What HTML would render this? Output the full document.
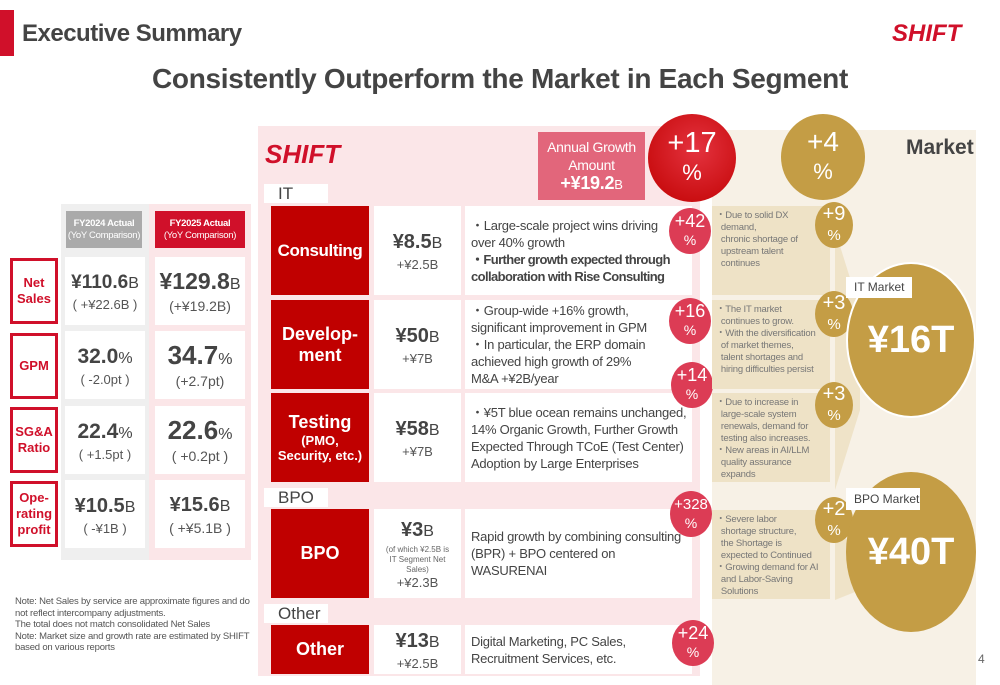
<!DOCTYPE html>
<html><head><meta charset="utf-8">
<style>
*{margin:0;padding:0;box-sizing:border-box}
body{width:1000px;height:685px;position:relative;overflow:hidden;background:#fff;font-family:"Liberation Sans","DejaVu Sans",sans-serif;color:#444}
.a{position:absolute}
.c{display:flex;align-items:center;justify-content:center;text-align:center;flex-direction:column}
.lab{border:3px solid #d0102a;color:#d0102a;font-weight:bold;font-size:13px;line-height:16px;background:#fff}
.cell{background:#fff}
.big{font-weight:bold;font-size:23px;color:#444;line-height:26px}
.big small{font-size:16px;font-weight:normal}
.sub{font-size:13px;color:#555}
.seg{background:#c00000;color:#fff;font-weight:bold;font-size:18px;line-height:21px}
.val{background:#fff;color:#444}
.desc{background:#fff;font-size:13px;line-height:17px;color:#444;padding:0 6px;justify-content:center;display:flex;flex-direction:column;letter-spacing:-0.25px;white-space:nowrap}
.pc{border-radius:50%;background:#dc3c55;color:#fff;line-height:19px;font-size:18px}
.pc span{font-size:14px}
.gc{border-radius:50%;background:#c49d45;color:#fff;font-size:20px;line-height:21px}
.gc span{font-size:15px}
.mk{background:#eee2c6;font-size:9.5px;line-height:12px;color:#777;padding:4px 4px;letter-spacing:-0.2px}
.tag{background:#fff;font-size:17px;color:#444;padding-left:14px;line-height:19px}
</style></head><body>
<div class="a" style="left:0;top:10px;width:14px;height:46px;background:#d0102a"></div>
<div class="a" style="left:22px;top:20px;font-size:24px;font-weight:bold;color:#444;letter-spacing:-0.5px">Executive Summary</div>
<div class="a" style="left:892px;top:20px;font-size:24px;font-weight:900;font-style:italic;color:#d0102a">SHIFT</div>
<div class="a" style="left:0;width:1000px;top:63px;text-align:center;font-size:28px;font-weight:bold;color:#444;letter-spacing:-0.3px">Consistently Outperform the Market in Each Segment</div>

<div class="a" style="left:61px;top:204px;width:190px;height:356px;background:#efefef"></div>
<div class="a" style="left:149px;top:204px;width:102px;height:356px;background:#fbe6e8"></div>
<div class="a c" style="left:66px;top:211px;width:76px;height:37px;background:#aaa;color:#fff;font-size:9.5px;line-height:12px;letter-spacing:-0.3px"><b>FY2024 Actual</b>(YoY Comparison)</div>
<div class="a c" style="left:155px;top:211px;width:90px;height:37px;background:#d0102a;color:#fff;font-size:9.5px;line-height:12px;letter-spacing:-0.3px"><b>FY2025 Actual</b>(YoY Comparison)</div>

<div class="a c lab" style="left:10px;top:258px;width:48px;height:66px">Net<br>Sales</div>
<div class="a c lab" style="left:10px;top:333px;width:48px;height:66px">GPM</div>
<div class="a c lab" style="left:10px;top:407px;width:48px;height:66px">SG&amp;A<br>Ratio</div>
<div class="a c lab" style="left:10px;top:481px;width:48px;height:66px">Ope-<br>rating<br>profit</div>

<div class="a c cell" style="left:65px;top:257px;width:80px;height:68px"><div class="big" style="font-size:19px">¥110.6<small>B</small></div><div class="sub">( +¥22.6B )</div></div>
<div class="a c cell" style="left:155px;top:257px;width:90px;height:68px"><div class="big">¥129.8<small>B</small></div><div class="sub" style="font-size:14px">(+¥19.2B)</div></div>
<div class="a c cell" style="left:65px;top:331px;width:80px;height:68px"><div class="big" style="font-size:21px">32.0<small>%</small></div><div class="sub">( -2.0pt )</div></div>
<div class="a c cell" style="left:155px;top:331px;width:90px;height:68px"><div class="big" style="font-size:26px">34.7<small>%</small></div><div class="sub" style="font-size:14px">(+2.7pt)</div></div>
<div class="a c cell" style="left:65px;top:406px;width:80px;height:68px"><div class="big" style="font-size:21px">22.4<small>%</small></div><div class="sub">( +1.5pt )</div></div>
<div class="a c cell" style="left:155px;top:406px;width:90px;height:68px"><div class="big" style="font-size:26px">22.6<small>%</small></div><div class="sub" style="font-size:14px">( +0.2pt )</div></div>
<div class="a c cell" style="left:65px;top:480px;width:80px;height:68px"><div class="big" style="font-size:20px">¥10.5<small>B</small></div><div class="sub">( -¥1B )</div></div>
<div class="a c cell" style="left:155px;top:480px;width:90px;height:68px"><div class="big" style="font-size:20px">¥15.6<small>B</small></div><div class="sub" style="font-size:14px">( +¥5.1B )</div></div>

<div class="a" style="left:15px;top:596px;width:240px;font-size:9.5px;line-height:11.5px;color:#555;letter-spacing:-0.2px">Note: Net Sales by service are approximate figures and do not reflect intercompany adjustments.<br>The total does not match consolidated Net Sales<br>Note: Market size and growth rate are estimated by SHIFT based on various reports</div>

<div class="a" style="left:712px;top:130px;width:264px;height:555px;background:#f7f1e6"></div>

<div class="a" style="left:258px;top:126px;width:442px;height:550px;background:#fbe6e8"></div>
<div class="a" style="left:265px;top:139px;font-size:26px;font-weight:900;font-style:italic;color:#d0102a">SHIFT</div>
<div class="a tag" style="left:264px;top:184px;width:64px;height:19px">IT</div>
<div class="a c" style="left:538px;top:132px;width:107px;height:68px;background:#e2667b;color:#fff;font-size:14px;line-height:18px;letter-spacing:-0.3px">Annual Growth<br>Amount<br><span style="font-size:18px;font-weight:bold">+¥19.2<small style="font-size:13px;font-weight:normal">B</small></span></div>
<div class="a c" style="left:648px;top:114px;width:88px;height:88px;border-radius:50%;background:radial-gradient(circle at 55% 40%,#e4333f,#c00000);color:#fff;font-size:29px;line-height:30px">+17<span style="font-size:22px">%</span></div>

<div class="a c seg" style="left:271px;top:206px;width:98px;height:89px;font-size:17px;letter-spacing:-0.4px">Consulting</div>
<div class="a c val" style="left:374px;top:206px;width:87px;height:89px"><div class="big" style="font-size:20px">¥8.5<small>B</small></div><div class="sub">+¥2.5B</div></div>
<div class="a desc" style="left:465px;top:206px;width:227px;height:89px">・Large-scale project wins driving<br>over 40% growth<br><b style="letter-spacing:-0.6px">・Further growth expected through<br>collaboration with Rise Consulting</b></div>

<div class="a c seg" style="left:271px;top:300px;width:98px;height:89px">Develop-<br>ment</div>
<div class="a c val" style="left:374px;top:300px;width:87px;height:89px"><div class="big" style="font-size:20px">¥50<small>B</small></div><div class="sub">+¥7B</div></div>
<div class="a desc" style="left:465px;top:300px;width:227px;height:89px">・Group-wide +16% growth,<br>significant improvement in GPM<br>・In particular, the ERP domain<br>achieved high growth of 29%<br>M&amp;A +¥2B/year</div>

<div class="a c seg" style="left:271px;top:393px;width:98px;height:89px"><span>Testing</span><span style="font-size:13px;line-height:15px">(PMO,<br>Security, etc.)</span></div>
<div class="a c val" style="left:374px;top:393px;width:87px;height:89px"><div class="big" style="font-size:20px">¥58<small>B</small></div><div class="sub">+¥7B</div></div>
<div class="a desc" style="left:465px;top:393px;width:227px;height:89px">・¥5T blue ocean remains unchanged,<br>14% Organic Growth, Further Growth<br>Expected Through TCoE (Test Center)<br>Adoption by Large Enterprises</div>

<div class="a tag" style="left:264px;top:488px;width:64px;height:19px">BPO</div>
<div class="a c seg" style="left:271px;top:509px;width:98px;height:89px">BPO</div>
<div class="a c val" style="left:374px;top:509px;width:87px;height:89px"><div class="big" style="font-size:20px">¥3<small>B</small></div><div style="font-size:8px;line-height:10px;color:#666">(of which ¥2.5B is<br>IT Segment Net<br>Sales)</div><div class="sub">+¥2.3B</div></div>
<div class="a desc" style="left:465px;top:509px;width:227px;height:89px">Rapid growth by combining consulting<br>(BPR) + BPO centered on<br>WASURENAI</div>

<div class="a tag" style="left:264px;top:604px;width:64px;height:19px">Other</div>
<div class="a c seg" style="left:271px;top:625px;width:98px;height:49px">Other</div>
<div class="a c val" style="left:374px;top:625px;width:87px;height:49px"><div class="big" style="font-size:20px">¥13<small>B</small></div><div class="sub">+¥2.5B</div></div>
<div class="a desc" style="left:465px;top:625px;width:227px;height:49px">Digital Marketing, PC Sales,<br>Recruitment Services, etc.</div>

<div class="a c pc" style="left:669px;top:208px;width:42px;height:46px">+42<span>%</span></div>
<div class="a c pc" style="left:669px;top:298px;width:42px;height:46px">+16<span>%</span></div>
<div class="a c pc" style="left:671px;top:362px;width:42px;height:46px">+14<span>%</span></div>
<div class="a c pc" style="left:670px;top:491px;width:42px;height:46px;font-size:15px">+328<span>%</span></div>
<div class="a c pc" style="left:672px;top:620px;width:42px;height:46px">+24<span>%</span></div>

<div class="a" style="left:906px;top:136px;font-size:21px;font-weight:bold;color:#444">Market</div>
<div class="a c gc" style="left:781px;top:114px;width:84px;height:86px;font-size:28px;line-height:30px">+4<span style="font-size:22px">%</span></div>
<svg class="a" style="left:830px;top:230px" width="40" height="380"><polygon points="5,0 30,80 30,180 5,260" fill="#efe3c8"/><polygon points="5,300 30,320 30,360 5,370" fill="#efe3c8"/></svg>
<div class="a mk" style="left:712px;top:206px;width:118px;height:89px">・Due to solid DX<br>&nbsp;&nbsp;demand,<br>&nbsp;&nbsp;chronic shortage of<br>&nbsp;&nbsp;upstream talent<br>&nbsp;&nbsp;continues</div>
<div class="a mk" style="left:712px;top:300px;width:118px;height:89px">・The IT market<br>&nbsp;&nbsp;continues to grow.<br>・With the diversification<br>&nbsp;&nbsp;of market themes,<br>&nbsp;&nbsp;talent shortages and<br>&nbsp;&nbsp;hiring difficulties persist</div>
<div class="a mk" style="left:712px;top:393px;width:118px;height:89px">・Due to increase in<br>&nbsp;&nbsp;large-scale system<br>&nbsp;&nbsp;renewals, demand for<br>&nbsp;&nbsp;testing also increases.<br>・New areas in AI/LLM<br>&nbsp;&nbsp;quality assurance<br>&nbsp;&nbsp;expands</div>
<div class="a mk" style="left:712px;top:510px;width:118px;height:89px">・Severe labor<br>&nbsp;&nbsp;shortage structure,<br>&nbsp;&nbsp;the Shortage is<br>&nbsp;&nbsp;expected to Continued<br>・Growing demand for AI<br>&nbsp;&nbsp;and Labor-Saving<br>&nbsp;&nbsp;Solutions</div>
<div class="a c gc" style="left:815px;top:202px;width:38px;height:46px">+9<span>%</span></div>
<div class="a c gc" style="left:815px;top:291px;width:38px;height:46px">+3<span>%</span></div>
<div class="a c gc" style="left:815px;top:382px;width:38px;height:46px">+3<span>%</span></div>
<div class="a c gc" style="left:815px;top:497px;width:38px;height:46px">+2<span>%</span></div>
<div class="a c" style="left:846px;top:262px;width:130px;height:156px;border-radius:50%;background:#c49d45;border:2px solid #fff;color:#fff;font-size:38px;font-weight:bold">¥16T</div>
<div class="a" style="left:846px;top:277px;width:66px;height:21px;background:#fff;font-size:12px;line-height:21px;padding-left:8px;color:#444">IT Market</div>
<div class="a c" style="left:846px;top:472px;width:130px;height:160px;border-radius:50%;background:#c49d45;color:#fff;font-size:38px;font-weight:bold">¥40T</div>
<div class="a" style="left:846px;top:488px;width:74px;height:22px;background:#fff;font-size:12px;line-height:22px;padding-left:8px;color:#444">BPO Market</div>
<div class="a" style="left:978px;top:652px;font-size:12px;color:#666">4</div>
</body></html>
